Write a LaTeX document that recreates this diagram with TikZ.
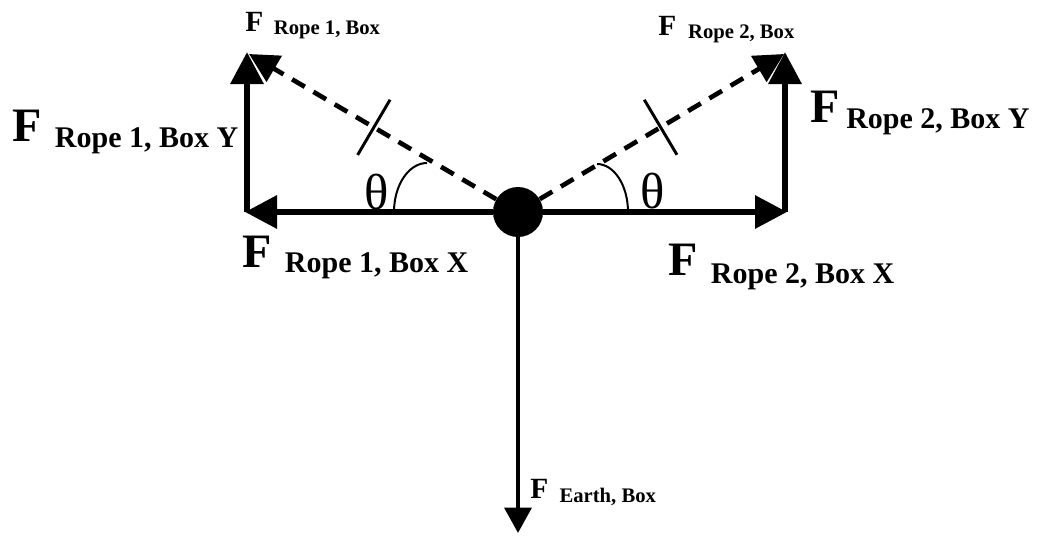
\documentclass[tikz,border=0pt]{standalone}
\usepackage{fontspec}
\setmainfont{Liberation Serif}
\usetikzlibrary{arrows.meta,positioning}
\tikzset{
  comp/.style     = {line width=4.8pt, -{Triangle[length=24pt,width=24pt]}},
  rope/.style     = {line width=3.5pt, dash pattern=on 11pt off 7.5pt, -{Triangle[length=22pt,width=22pt]}},
  weight/.style   = {line width=3.3pt, -{Triangle[length=19pt,width=20pt]}},
  tickmark/.style = {draw, solid, line width=2.2pt, minimum height=48pt, minimum width=0pt, inner sep=0pt, sloped, pos=0.495},
  anglearc/.style = {line width=1.5pt},
  flabel/.style   = {anchor=base west, inner sep=0pt, font=\bfseries},
  theta/.style    = {inner sep=0pt, font=\fontsize{38pt}{38pt}\selectfont}
}
\newcommand{\Fsub}[5]{{\fontsize{#1}{#1}\selectfont F}\hspace{#3}\raisebox{-#4}{\fontsize{#2}{#2}\selectfont #5}}

\begin{document}
\begin{tikzpicture}[x=0.75pt, y=-0.75pt]
	\useasboundingbox (0,0) rectangle (1043,536);
	% the box
	\node[circle, fill, minimum size=37.5pt, inner sep=0pt] (box) at (518,212) {};
	% ends of the vectors
	\coordinate (x1) at (245,212);
	\coordinate (c1) at (247,212);
	\coordinate (y1) at (247,52);
	\coordinate (r1) at (249,54);
	\coordinate (x2) at (787,212);
	\coordinate (c2) at (785,212);
	\coordinate (y2) at (785,52);
	\coordinate (r2) at (784,54);
	\coordinate (g) at (518,533);
	% components
	\draw[comp] (box) -- (x1);
	\draw[comp] (c1) -- (y1);
	\draw[comp] (box) -- (x2);
	\draw[comp] (c2) -- (y2);
	% rope forces
	\draw[rope] (box) -- node[tickmark] {} (r1);
	\draw[rope] (box) -- node[tickmark] {} (r2);
	% weight
	\draw[weight] (box) -- (g);
	% angles
	\coordinate (a1) at (394,212);
	\coordinate (a2) at (597,164);
	\draw[anglearc] (a1) arc[start angle=180, end angle=270, x radius=33, y radius=49];
	\draw[anglearc] (a2) arc[start angle=270, end angle=360, x radius=31, y radius=48];
	\node[theta] (t1) at (376.5,192.5) {θ};
	\node[theta] (t2) at (652.5,191.5) {θ};
	% labels
	\node[flabel] (f1)  at (245,31)  {\Fsub{22pt}{15.5pt}{8pt}{2.25pt}{Rope 1, Box}};
	\node[flabel] (f1y) at (12,141)  {\Fsub{36pt}{22.5pt}{10pt}{4.5pt}{Rope 1, Box Y}};
	\node[flabel] (f1x) at (242,267) {\Fsub{36pt}{22.5pt}{10pt}{3.75pt}{Rope 1, Box X}};
	\node[flabel] (f2)  at (658,35)  {\Fsub{22pt}{15.5pt}{9pt}{2.25pt}{Rope 2, Box}};
	\node[flabel] (f2y) at (810,122) {\Fsub{36pt}{22.5pt}{5pt}{4.5pt}{Rope 2, Box Y}};
	\node[flabel] (f2x) at (668,275) {\Fsub{36pt}{22.5pt}{10pt}{6pt}{Rope 2, Box X}};
	\node[flabel] (fe)  at (530,498) {\Fsub{22pt}{15.5pt}{8.5pt}{3pt}{Earth, Box}};
\end{tikzpicture}
\end{document}
